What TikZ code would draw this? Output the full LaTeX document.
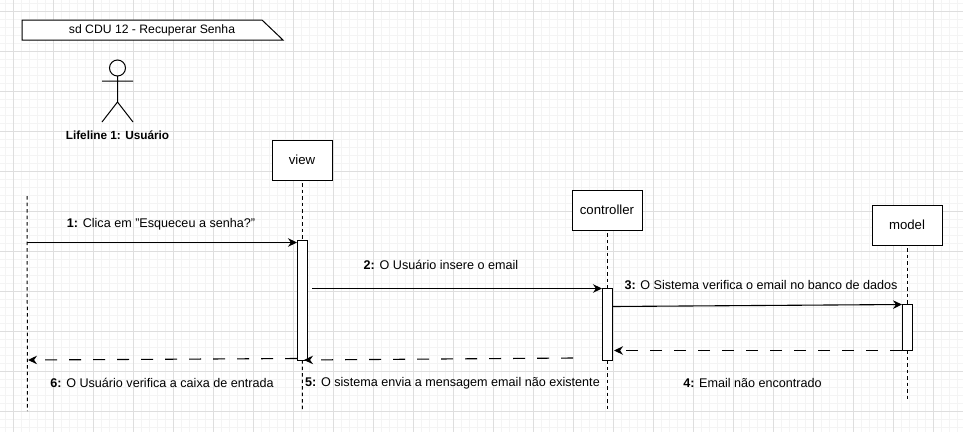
\documentclass[tikz,border=0pt]{standalone}
\usepackage{fontspec}
\setmainfont{Liberation Sans}
\usetikzlibrary{arrows.meta}

\begin{document}
\begin{tikzpicture}[
    x=1pt, y=-1pt,
    head/.style={rectangle, draw, line width=1pt, fill=white, minimum width=60pt, minimum height=40pt, inner sep=0pt, outer sep=0pt, font=\fontsize{13.2}{15}\selectfont},
    bar/.style={rectangle, draw, line width=1pt, fill=white, minimum width=10pt, inner sep=0pt, outer sep=0pt},
    label/.style={inner sep=0pt, font=\fontsize{12.6}{15}\selectfont},
    life/.style={line width=1pt, dash pattern=on 3.5pt off 3pt},
    msg/.style={-{Stealth[length=9pt,width=8.5pt]}, line width=1.1pt},
    reply/.style={-{Stealth[length=9pt,width=8.5pt]}, line width=1.1pt, dash pattern=on 12pt off 12pt}
]
\useasboundingbox (0,0) rectangle (963,432);
\fill[white] (0,0) rectangle (963,432);
% grid
\foreach \x in {5,13,...,965} \draw[gray!9, line width=0.6pt] (\x,0) -- (\x,432);
\foreach \y in {3,11,...,435} \draw[gray!9, line width=0.6pt] (0,\y) -- (963,\y);
\foreach \x in {13,53,...,965} \draw[gray!26, line width=0.8pt] (\x,0) -- (\x,432);
\foreach \y in {11,51,...,435} \draw[gray!26, line width=0.8pt] (0,\y) -- (963,\y);
% frame
\draw[fill=white, line width=1pt] (22,20) -- (262,20) -- (283,40) -- (22,40) -- cycle;
\node[label, font=\fontsize{12.2}{15}\selectfont] (frame) at (152,30) {sd CDU 12 - Recuperar Senha};
% actor
\node[circle, draw, minimum size=16pt, inner sep=0pt, outer sep=0pt, line width=1pt] (actor) at (117.5,68) {};
\coordinate (hip) at (117.5,102);
\coordinate (armL) at (102,81);
\coordinate (armR) at (133,81);
\coordinate (legL) at (102,122);
\coordinate (legR) at (133,122);
\draw[line width=1pt] (actor) -- (hip) (armL) -- (armR) (legL) -- (hip) -- (legR);
\node[label, font=\fontsize{11.8}{15}\selectfont\bfseries] (user) at (117.5,135.5) {Lifeline 1: Usuário};
% heads and bars
\node[head] (view) at (302,160) {view};
\node[head, minimum width=70pt] (controller) at (607,210) {controller};
\node[head, minimum width=70pt] (model) at (907,225) {model};
\node[bar, minimum height=120pt] (viewbar) at (302,300) {};
\node[bar, minimum height=72pt] (controllerbar) at (607,324) {};
\node[bar, minimum height=46pt] (modelbar) at (907,327) {};
% lifelines
\coordinate (userTop) at (27,196);
\coordinate (userEnd) at (27.5,411);
\coordinate (viewEnd) at (302.5,411);
\coordinate (controllerEnd) at (607,410);
\coordinate (modelEnd) at (907,399);
\draw[life] (userTop) -- (userEnd);
\draw[life, shorten <=3pt] (view) -- (viewbar);
\draw[life] (viewbar) -- (viewEnd);
\draw[life, shorten <=3pt] (controller) -- (controllerbar);
\draw[life] (controllerbar) -- (controllerEnd);
\draw[life, shorten <=3pt] (model) -- (modelbar);
\draw[life] (modelbar) -- (modelEnd);
% messages
\coordinate (m1a) at (27,242.5);
\coordinate (m1b) at (297,242.5);
\coordinate (m2a) at (312,288.5);
\coordinate (m2b) at (602,288.5);
\coordinate (m3a) at (612,306.5);
\coordinate (m3b) at (902,304.5);
\coordinate (m4a) at (902,350.5);
\coordinate (m4b) at (614,350.5);
\coordinate (m5a) at (573,358);
\coordinate (m5b) at (304,360);
\coordinate (m6a) at (297,358.5);
\coordinate (m6b) at (28,360);
\draw[msg] (m1a) -- (m1b);
\draw[msg] (m2a) -- (m2b);
\draw[msg] (m3a) -- (m3b);
\draw[reply] (m4a) -- (m4b);
\draw[reply] (m5a) -- (m5b);
\draw[reply] (m6a) -- (m6b);
% labels
\node[label] (t1) at (161,224.5) {\textbf{1:} Clica em "Esqueceu a senha?"};
\node[label] (t2) at (441,264.5) {\textbf{2:} O Usuário insere o email};
\node[label] (t3) at (761,285) {\textbf{3:} O Sistema verifica o email no banco de dados};
\node[label] (t4) at (752.5,383) {\textbf{4:} Email não encontrado};
\node[label] (t5) at (452.5,383) {\textbf{5:} O sistema envia a mensagem email não existente};
\node[label] (t6) at (162,383) {\textbf{6:} O Usuário verifica a caixa de entrada};
\end{tikzpicture}
\end{document}
